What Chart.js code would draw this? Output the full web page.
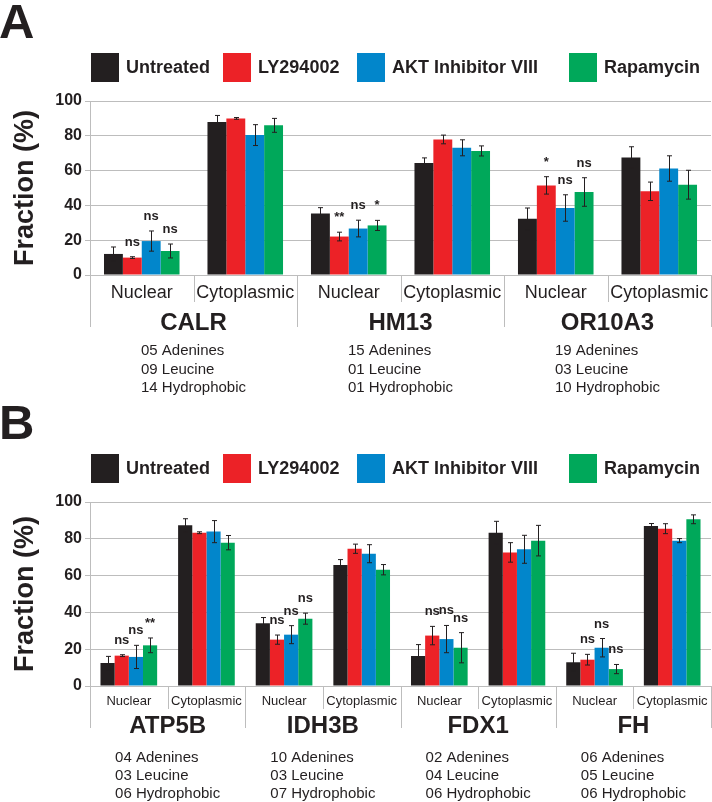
<!DOCTYPE html>
<html>
<head>
<meta charset="utf-8">
<script src="https://cdn.jsdelivr.net/npm/chart.js@4.4.1/dist/chart.umd.min.js"></script>
<style>
  body { margin: 0; background: #fff; }
  .panel { position: relative; width: 712px; height: 401px; }
</style>
</head>
<body>
<div class="panel"><canvas id="chartA"></canvas></div>
<div class="panel"><canvas id="chartB"></canvas></div>
<script>
const FONT = '"Liberation Sans", Arial, Helvetica, sans-serif';
const INK = '#231f20';
const GRID = '#bdbdbd';

// treatments + colours
const treatments = ['Untreated', 'LY294002', 'AKT Inhibitor VIII', 'Rapamycin'];
const colors = ['#231f20', '#ec2227', '#0286cb', '#00a85a'];

// --- panel A data ---
const catsA = ['Nuclear', 'Cytoplasmic', 'Nuclear', 'Cytoplasmic', 'Nuclear', 'Cytoplasmic'];
const genesA = ['CALR', 'HM13', 'OR10A3'];
const notesA = [
    ['05 Adenines', '09 Leucine', '14 Hydrophobic'],
    ['15 Adenines', '01 Leucine', '01 Hydrophobic'],
    ['19 Adenines', '03 Leucine', '10 Hydrophobic']
];
const untreatedA = [12.1, 87.9, 35.4, 64.4, 32.3, 67.5];
const lyA        = [10.0, 90.0, 22.1, 77.9, 51.5, 48.1];
const aktA       = [19.5, 80.4, 26.7, 73.1, 38.5, 61.2];
const rapaA      = [13.8, 86.0, 28.5, 71.3, 47.7, 51.9];
const untreatedErrA = [4.0, 3.8, 3.3, 2.9, 6.2, 6.2];
const lyErrA        = [0.5, 0.5, 2.5, 2.5, 5.0, 5.3];
const aktErrA       = [5.8, 6.0, 4.8, 4.6, 7.6, 7.3];
const rapaErrA      = [4.0, 4.0, 2.9, 2.9, 8.2, 8.3];
const lySigA   = ['ns', '', '**', '', '*', ''];
const aktSigA  = ['ns', '', 'ns', '', 'ns', ''];
const rapaSigA = ['ns', '', '*', '', 'ns', ''];

// --- panel B data ---
const catsB = ['Nuclear', 'Cytoplasmic', 'Nuclear', 'Cytoplasmic', 'Nuclear', 'Cytoplasmic', 'Nuclear', 'Cytoplasmic'];
const genesB = ['ATP5B', 'IDH3B', 'FDX1', 'FH'];
const notesB = [
    ['04 Adenines', '03 Leucine', '06 Hydrophobic'],
    ['10 Adenines', '03 Leucine', '07 Hydrophobic'],
    ['02 Adenines', '04 Leucine', '06 Hydrophobic'],
    ['06 Adenines', '05 Leucine', '06 Hydrophobic']
];
const untreatedB = [12.5, 87.3, 34.1, 65.8, 16.3, 83.3, 12.9, 87.0];
const lyB        = [16.5, 83.3, 25.2, 74.6, 27.4, 72.6, 14.3, 85.5];
const aktB       = [15.8, 83.9, 27.9, 71.9, 25.5, 74.3, 20.8, 79.0];
const rapaB      = [22.1, 77.9, 36.6, 63.2, 20.8, 79.0, 9.2, 90.6];
const untreatedErrB = [3.6, 3.6, 3.1, 2.9, 6.2, 6.2, 4.9, 1.3];
const lyErrB        = [0.5, 0.5, 2.5, 2.5, 5.0, 5.3, 2.9, 2.7];
const aktErrB       = [6.3, 6.0, 4.9, 4.9, 7.4, 7.6, 5.0, 1.1];
const rapaErrB      = [4.0, 3.9, 3.0, 2.8, 8.2, 8.3, 2.5, 2.4];
const lySigB   = ['ns', '', 'ns', '', 'ns', '', 'ns', ''];
const aktSigB  = ['ns', '', 'ns', '', 'ns', '', 'ns', ''];
const rapaSigB = ['**', '', 'ns', '', 'ns', '', 'ns', ''];

// legend item left edges (same for both panels)
const legendBoxX = [91, 223, 357, 569];

// error bars, significance marks, legend, group labels
const extrasPlugin = {
    id: 'extras',
    afterDatasetsDraw(chart, args, opts) {
        const ctx = chart.ctx;
        const y = chart.scales.y;
        ctx.save();
        ctx.strokeStyle = INK;
        ctx.fillStyle = INK;
        ctx.lineWidth = 1;
        ctx.font = 'bold 13px ' + FONT;
        ctx.textAlign = 'center';
        ctx.textBaseline = 'alphabetic';
        chart.data.datasets.forEach((ds, di) => {
            chart.getDatasetMeta(di).data.forEach((bar, i) => {
                const v = ds.data[i], e = ds.errors[i];
                const top = y.getPixelForValue(v + e);
                const bot = y.getPixelForValue(v - e);
                const x = Math.round(bar.x) + 0.5;
                ctx.beginPath();
                ctx.moveTo(x, top); ctx.lineTo(x, bot);
                ctx.moveTo(x - 2.5, top); ctx.lineTo(x + 2.5, top);
                ctx.moveTo(x - 2.5, bot); ctx.lineTo(x + 2.5, bot);
                ctx.stroke();
                if (ds.sig[i]) ctx.fillText(ds.sig[i], bar.x, top - 11);
            });
        });
        ctx.restore();
    },
    afterDraw(chart, args, opts) {
        const ctx = chart.ctx;
        const xs = chart.scales.x;
        const area = chart.chartArea;
        ctx.save();

        // panel letter
        ctx.fillStyle = INK;
        ctx.font = 'bold 49px ' + FONT;
        ctx.textAlign = 'left';
        ctx.textBaseline = 'alphabetic';
        ctx.fillText(opts.letter, -1, 38);

        // legend
        ctx.font = 'bold 18px ' + FONT;
        ctx.textBaseline = 'middle';
        chart.data.datasets.forEach((ds, k) => {
            ctx.fillStyle = ds.backgroundColor;
            ctx.fillRect(legendBoxX[k], 53, 28, 29);
            ctx.fillStyle = INK;
            ctx.fillText(ds.label, legendBoxX[k] + 35, 68);
        });

        // category dividers under the axis
        const n = chart.data.labels.length;
        const catW = (xs.right - xs.left) / n;
        ctx.strokeStyle = GRID;
        ctx.lineWidth = 1;
        ctx.beginPath();
        for (let i = 0; i <= n; i++) {
            const px = Math.round(xs.left + i * catW) + 0.5;
            const len = (i % 2 === 0) ? opts.geneLine : opts.subLine;
            ctx.moveTo(px, area.bottom);
            ctx.lineTo(px, area.bottom + len);
        }
        ctx.stroke();

        // gene names and composition notes
        opts.genes.forEach((g, gi) => {
            const cx = xs.left + (2 * gi + 1) * catW;
            ctx.fillStyle = INK;
            ctx.font = 'bold 24px ' + FONT;
            ctx.textAlign = 'center';
            ctx.textBaseline = 'middle';
            ctx.fillText(g, cx, opts.geneY);

            ctx.font = '15px ' + FONT;
            ctx.textAlign = 'left';
            const lines = opts.notes[gi];
            const w = Math.max(...lines.map(l => ctx.measureText(l).width));
            lines.forEach((l, li) => {
                ctx.fillText(l, cx - w / 2, opts.noteY + li * opts.noteGap);
            });
        });
        ctx.restore();
    }
};

function makePanel(id, letter, cats, genes, notes, series, errs, sigs, look) {
    return new Chart(document.getElementById(id), {
        type: 'bar',
        data: {
            labels: cats,
            datasets: treatments.map((t, k) => ({
                label: t,
                data: series[k],
                errors: errs[k],
                sig: sigs[k],
                backgroundColor: colors[k],
                borderWidth: 0,
                categoryPercentage: 0.73,
                barPercentage: 1.0
            }))
        },
        options: {
            responsive: true,
            maintainAspectRatio: false,
            animation: false,
            layout: { padding: { top: 101, right: 1, left: 0, bottom: 0 } },
            plugins: {
                legend: { display: false },
                tooltip: { enabled: false },
                extras: Object.assign({ letter: letter, genes: genes, notes: notes }, look)
            },
            scales: {
                x: {
                    grid: { display: false },
                    border: { display: false },
                    ticks: {
                        font: { family: FONT, size: look.catSize },
                        color: INK,
                        padding: look.catPad,
                        maxRotation: 0,
                        autoSkip: false
                    },
                    afterFit: s => { s.height = look.xHeight; }
                },
                y: {
                    min: 0,
                    max: 100,
                    ticks: {
                        stepSize: 20,
                        font: { family: FONT, size: 16, weight: 'bold' },
                        color: INK,
                        padding: 3
                    },
                    grid: { color: GRID, tickLength: 5 },
                    border: { color: GRID },
                    title: {
                        display: true,
                        text: 'Fraction (%)',
                        font: { family: FONT, size: 27, weight: 'bold' },
                        color: INK,
                        padding: { top: 9, bottom: 0 }
                    },
                    afterFit: s => { s.width = 90; }
                }
            }
        },
        plugins: [extrasPlugin]
    });
}

makePanel('chartA', 'A', catsA, genesA, notesA,
    [untreatedA, lyA, aktA, rapaA],
    [untreatedErrA, lyErrA, aktErrA, rapaErrA],
    [[], lySigA, aktSigA, rapaSigA],
    { catSize: 18, catPad: -1, xHeight: 126, geneLine: 52, subLine: 27, geneY: 323, noteY: 351, noteGap: 18.5 });

makePanel('chartB', 'B', catsB, genesB, notesB,
    [untreatedB, lyB, aktB, rapaB],
    [untreatedErrB, lyErrB, aktErrB, rapaErrB],
    [[], lySigB, aktSigB, rapaSigB],
    { catSize: 13, catPad: 0, xHeight: 116, geneLine: 42, subLine: 23, geneY: 325, noteY: 357, noteGap: 17.8 });
</script>
</body>
</html>
